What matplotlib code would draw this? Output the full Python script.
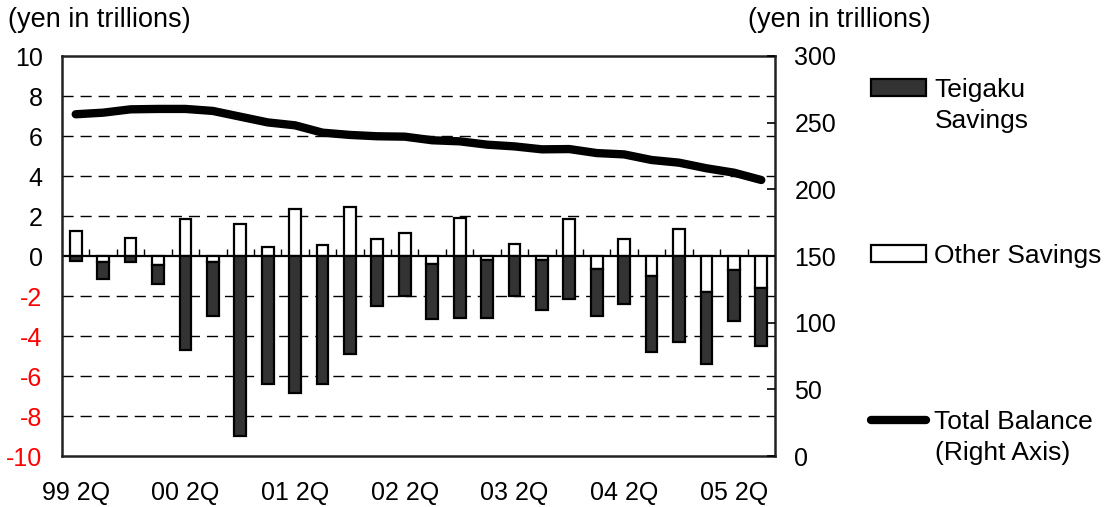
import matplotlib
matplotlib.use("Agg")
import matplotlib.pyplot as plt
from matplotlib.patches import Patch
from matplotlib.lines import Line2D
import numpy as np

plt.rcParams['font.family'] = ['Liberation Sans', 'DejaVu Sans']

quarters = ["99 2Q", "99 3Q", "99 4Q", "00 1Q", "00 2Q", "00 3Q", "00 4Q", "01 1Q",
            "01 2Q", "01 3Q", "01 4Q", "02 1Q", "02 2Q", "02 3Q", "02 4Q", "03 1Q",
            "03 2Q", "03 3Q", "03 4Q", "04 1Q", "04 2Q", "04 3Q", "04 4Q", "05 1Q",
            "05 2Q", "05 3Q"]
tick_labels = ["99 2Q", "00 2Q", "01 2Q", "02 2Q", "03 2Q", "04 2Q", "05 2Q"]

teigaku = [-0.25, -0.87, -0.30, -0.92, -4.72, -2.70, -9.00, -6.40, -6.85, -6.40,
           -4.89, -2.51, -2.01, -2.75, -3.11, -2.86, -2.01, -2.48, -2.14, -2.31,
           -2.39, -3.79, -4.31, -3.58, -2.55, -2.89]
other = [1.27, -0.30, 0.89, -0.47, 1.86, -0.30, 1.61, 0.46, 2.37, 0.54,
         2.46, 0.83, 1.14, -0.39, 1.91, -0.22, 0.61, -0.21, 1.86, -0.67,
         0.83, -1.00, 1.33, -1.81, -0.71, -1.59]
total_balance = [256.3, 257.5, 260.0, 260.3, 260.3, 258.8, 254.5, 250.2, 248.0, 242.5,
                 240.8, 239.8, 239.5, 236.8, 236.0, 233.5, 232.2, 230.0, 230.2, 227.2,
                 226.2, 222.0, 220.0, 215.8, 212.5, 207.0]

FS = 18
FS_T = 19.5
FS_L = 19
fig = plt.figure(figsize=(11.13, 5.07), dpi=100)
ax = fig.add_axes([62/1113, 1-456/507, (775-62)/1113, 400/507])

x = np.arange(len(quarters))
oth = np.array(other)
tei = np.array(teigaku)
# other savings drawn from zero; teigaku stacked beyond other when both share a sign
tei_bottom = np.where(np.sign(tei) == np.sign(oth), oth, 0.0)
w = 0.43
ax.bar(x, oth, w, color='white', edgecolor='black', linewidth=1.6, zorder=3)
ax.bar(x, tei, w, bottom=tei_bottom, color='#333333', edgecolor='black', linewidth=1.6, zorder=3)

ax.set_xlim(-0.5, len(quarters) - 0.5)
ax.set_ylim(-10, 10)
yt = np.arange(-10, 11, 2)
ax.set_yticks(yt)
ax.set_yticklabels([str(v) for v in yt])
for lab, v in zip(ax.get_yticklabels(), yt):
    lab.set_color('red' if v < 0 else 'black')
ax.tick_params(axis='y', length=0, pad=14, labelsize=FS)

# dashed gridlines
for v in yt:
    if v not in (-10, 0, 10):
        ax.axhline(v, color='black', lw=1.0, ls=(0, (8, 5)), zorder=1)
ax.axhline(0, color='black', lw=1.6, zorder=2)
# category tick marks on the zero axis
bounds = x[:-1] + 0.5
ax.vlines(bounds, 0, 0.35, color='black', lw=1.0, zorder=2)

xt_pos = [quarters.index(t) for t in tick_labels]
ax.set_xticks(xt_pos)
ax.set_xticklabels(tick_labels)
ax.tick_params(axis='x', length=0, pad=18, labelsize=FS)

for s in ax.spines.values():
    s.set_linewidth(1.8)
    s.set_color('#222222')

ax2 = ax.twinx()
ax2.plot(x, total_balance, color='black', lw=6, solid_capstyle='round', solid_joinstyle='round', zorder=5)
ax2.set_ylim(0, 300)
ax2.set_yticks(np.arange(0, 301, 50))
ax2.tick_params(axis='y', direction='in', length=6, width=1.2, pad=14, labelsize=FS)
for s in ax2.spines.values():
    s.set_visible(False)
ax2.set_xlim(ax.get_xlim())

fig.text(8/1113, 1-20/507, "(yen in trillions)", fontsize=FS_T, ha='left', va='center')
fig.text(748/1113, 1-20/507, "(yen in trillions)", fontsize=FS_T, ha='left', va='center')

common = dict(frameon=False, fontsize=FS_L, handlelength=2.1, handleheight=0.64,
              handletextpad=0.3, borderaxespad=0, borderpad=0)
fig.legend(handles=[Patch(facecolor='#333333', edgecolor='black', linewidth=1.6)],
           labels=["Teigaku"], loc='center left',
           bbox_to_anchor=(871/1113, 1-90/507), **common)
fig.text(935/1113, 1-121/507, "Savings", fontsize=FS_L, ha='left', va='center')
fig.legend(handles=[Patch(facecolor='white', edgecolor='black', linewidth=1.6)],
           labels=["Other Savings"], loc='center left',
           bbox_to_anchor=(871/1113, 1-256/507), **common)
fig.legend(handles=[Line2D([], [], color='black', lw=6, solid_capstyle='round')],
           labels=["Total Balance"], loc='center left',
           bbox_to_anchor=(871/1113, 1-422/507), **common)
fig.text(935/1113, 1-453/507, "(Right Axis)", fontsize=FS_L, ha='left', va='center')

fig.savefig("out.png", dpi=100)
